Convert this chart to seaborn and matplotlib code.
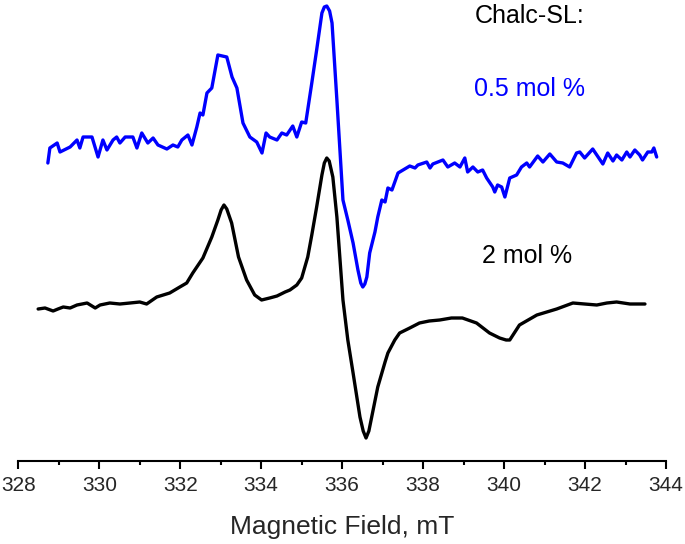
import matplotlib
matplotlib.use("Agg")
import matplotlib.pyplot as plt
import seaborn as sns
import pandas as pd
from matplotlib.ticker import MultipleLocator

# 0.5 mol % spectrum (field in mT, intensity in a.u., already offset)
field_05 = [328.73, 328.78, 328.96, 329.03, 329.28, 329.45, 329.52, 329.60, 329.82, 329.97,
            330.09, 330.19, 330.34, 330.43, 330.51, 330.64, 330.83, 330.93, 331.05, 331.20,
            331.33, 331.45, 331.67, 331.82, 331.94, 332.04, 332.19, 332.29, 332.41, 332.49,
            332.56, 332.66, 332.78, 332.93, 333.15, 333.28, 333.40, 333.55, 333.72, 333.89,
            334.02, 334.12, 334.21, 334.39, 334.51, 334.63, 334.78, 334.88, 335.00, 335.10,
            335.25, 335.37, 335.50, 335.56, 335.62, 335.69, 335.75, 335.87, 336.02, 336.14,
            336.27, 336.39, 336.46, 336.51, 336.56, 336.61, 336.68, 336.81, 336.88, 336.98,
            337.06, 337.13, 337.23, 337.38, 337.67, 337.80, 337.87, 338.09, 338.17, 338.24,
            338.49, 338.61, 338.78, 338.91, 339.03, 339.10, 339.23, 339.35, 339.47, 339.57,
            339.72, 339.77, 339.84, 339.94, 340.02, 340.14, 340.31, 340.43, 340.56, 340.63,
            340.83, 340.96, 341.13, 341.30, 341.45, 341.62, 341.79, 341.87, 341.99, 342.19,
            342.29, 342.44, 342.56, 342.69, 342.78, 342.91, 343.03, 343.11, 343.23, 343.35,
            343.42, 343.55, 343.65, 343.70, 343.77]
signal_05 = [298, 313, 318, 309, 314, 321, 313, 324, 324, 304,
             321, 311, 321, 324, 318, 324, 324, 313, 328, 318,
             323, 316, 312, 316, 314, 321, 326, 316, 334, 348,
             346, 368, 373, 406, 404, 384, 373, 338, 324, 319,
             308, 328, 324, 321, 328, 326, 335, 324, 339, 338,
             378, 411, 448, 454, 455, 450, 438, 361, 261, 241,
             218, 191, 178, 174, 177, 184, 208, 229, 244, 261,
             259, 273, 271, 288, 295, 293, 296, 299, 293, 297,
             301, 294, 298, 294, 303, 289, 294, 289, 291, 283,
             274, 269, 276, 274, 264, 283, 286, 294, 298, 294,
             305, 299, 307, 299, 298, 294, 308, 309, 303, 312,
             306, 297, 308, 300, 306, 301, 309, 304, 311, 306,
             301, 309, 309, 313, 304]

# 2 mol % spectrum
field_2 = [328.49, 328.66, 328.86, 328.98, 329.11, 329.28, 329.45, 329.70, 329.90, 330.02,
           330.26, 330.51, 330.76, 331.00, 331.17, 331.42, 331.74, 331.99, 332.16, 332.31,
           332.56, 332.78, 332.93, 333.01, 333.08, 333.15, 333.27, 333.44, 333.64, 333.84,
           334.01, 334.21, 334.39, 334.59, 334.71, 334.88, 335.00, 335.15, 335.25, 335.37,
           335.50, 335.56, 335.62, 335.68, 335.77, 335.87, 336.02, 336.14, 336.27, 336.44,
           336.52, 336.59, 336.66, 336.73, 336.88, 337.06, 337.13, 337.30, 337.42, 337.67,
           337.91, 338.15, 338.41, 338.70, 338.97, 339.32, 339.64, 339.89, 340.05, 340.14,
           340.38, 340.81, 341.30, 341.70, 341.99, 342.29, 342.54, 342.78, 343.11, 343.48]
signal_2 = [152, 153, 150, 152, 154, 153, 156, 158, 153, 156,
            158, 157, 158, 159, 157, 164, 168, 174, 178, 188,
            203, 224, 241, 251, 256, 252, 238, 204, 181, 166,
            161, 163, 165, 169, 171, 176, 183, 204, 226, 254,
            286, 298, 303, 300, 284, 244, 161, 121, 88, 44,
            30, 23, 30, 44, 74, 99, 108, 121, 128, 133,
            138, 140, 141, 143, 143, 138, 128, 123, 121, 121,
            136, 146, 152, 158, 157, 156, 158, 159, 157, 157]

df_05 = pd.DataFrame({"field": field_05, "signal": signal_05})
df_2 = pd.DataFrame({"field": field_2, "signal": signal_2})

sns.set_style("ticks")
plt.rcParams['font.family'] = ['Liberation Sans', 'DejaVu Sans']

fig = plt.figure(figsize=(6.85, 5.44), dpi=100)
ax = fig.add_axes([18.3 / 685, 1 - 461 / 544, (666 - 18.3) / 685, 461 / 544])

sns.lineplot(data=df_05, x="field", y="signal", sort=False, color="#0000FF", lw=2.4,
             solid_joinstyle="round", solid_capstyle="round", ax=ax)
sns.lineplot(data=df_2, x="field", y="signal", sort=False, color="black", lw=2.4,
             solid_joinstyle="round", solid_capstyle="round", ax=ax)

ax.set_xlim(328, 344)
ax.set_ylim(0, 461)
ax.xaxis.set_major_locator(MultipleLocator(2))
ax.xaxis.set_minor_locator(MultipleLocator(1))
ax.tick_params(axis="x", which="major", length=6, width=1.5, labelsize=15, pad=5, color="black")
ax.tick_params(axis="x", which="minor", length=3, width=1.5, color="black")
ax.set_yticks([])
ax.set_ylabel("")
ax.set_xlabel("Magnetic Field, mT", fontsize=19, labelpad=14)
for s in ["left", "right", "top"]:
    ax.spines[s].set_visible(False)
ax.spines["bottom"].set_linewidth(1.5)
ax.spines["bottom"].set_color("black")
ax.patch.set_alpha(0)

ax.text(340.64, 438, "Chalc-SL:", fontsize=18, ha="center", va="baseline", color="black")
ax.text(340.62, 365, "0.5 mol %", fontsize=18, ha="center", va="baseline", color="#0000FF")
ax.text(340.57, 198, "2 mol %", fontsize=18, ha="center", va="baseline", color="black")

fig.savefig("out.png", dpi=100)
